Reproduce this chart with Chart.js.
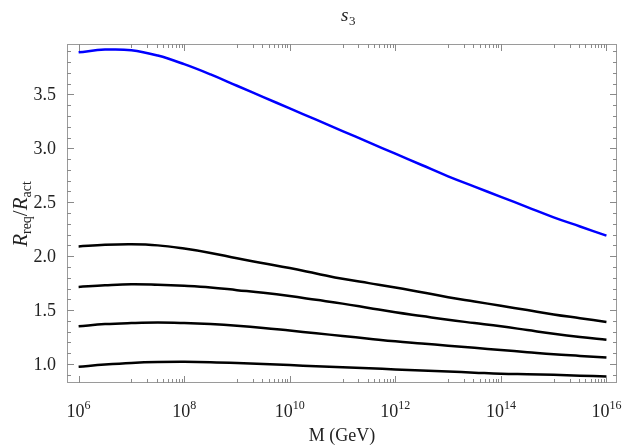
<!DOCTYPE html>
<html lang="en">
<head>
<meta charset="utf-8">
<script src="https://cdn.jsdelivr.net/npm/chart.js@4.4.1/dist/chart.umd.min.js"></script>
<style>
  html, body { margin: 0; padding: 0; background: #fff; }
</style>
</head>
<body>
<canvas id="grafico" width="623" height="446"></canvas>
<script>
// Eixo x: expoente de M (GeV), ou seja M = 10^expoente (meia década)
const expoentes = [6, 6.5, 7, 7.5, 8, 8.5, 9, 9.5, 10, 10.5, 11, 11.5,
                   12, 12.5, 13, 13.5, 14, 14.5, 15, 15.5, 16];

// curva azul (a de cima)
const curvaAzul = [3.89, 3.915, 3.91, 3.86, 3.78, 3.685, 3.58, 3.475, 3.37, 3.265, 3.16, 3.055,
                   2.95, 2.845, 2.74, 2.645, 2.55, 2.455, 2.36, 2.275, 2.19];

// curvas pretas, de cima para baixo
const curvaPreta1 = [2.09, 2.105, 2.11, 2.10, 2.07, 2.03, 1.98, 1.935, 1.89, 1.84, 1.79, 1.75,
                     1.71, 1.665, 1.62, 1.58, 1.54, 1.50, 1.46, 1.425, 1.39];
const curvaPreta2 = [1.715, 1.73, 1.74, 1.735, 1.725, 1.71, 1.685, 1.66, 1.63, 1.595, 1.56, 1.52,
                     1.48, 1.445, 1.41, 1.38, 1.35, 1.315, 1.28, 1.25, 1.225];
const curvaPreta3 = [1.35, 1.37, 1.38, 1.385, 1.38, 1.37, 1.355, 1.335, 1.31, 1.285, 1.26, 1.235,
                     1.21, 1.19, 1.17, 1.15, 1.13, 1.11, 1.09, 1.075, 1.06];
const curvaPreta4 = [0.975, 0.995, 1.01, 1.018, 1.02, 1.017, 1.01, 1.00, 0.99, 0.98, 0.97, 0.96,
                     0.95, 0.94, 0.93, 0.92, 0.91, 0.905, 0.90, 0.892, 0.885];

// marcas dos eixos
const ticksX = [6, 8, 10, 12, 14, 16];
const ticksY = [1.0, 1.5, 2.0, 2.5, 3.0, 3.5];

const FONTE = '"Liberation Serif", "DejaVu Serif", serif';

/**
 * Monta a lista de pontos {x, y} de uma curva.
 */
function pontos(valores) {
    return expoentes.map((e, i) => ({ x: e, y: valores[i] }));
}

function serie(valores, cor) {
    return {
        data: pontos(valores),
        borderColor: cor,
        borderWidth: 2.5,
        pointRadius: 0,
        tension: 0.4,
        fill: false
    };
}

/**
 * Desenha a moldura, as marcas (maiores e menores) e os textos,
 * no estilo do Mathematica.
 */
const moldura = {
    id: 'moldura',
    afterDatasetsDraw(chart) {
        const { ctx, chartArea: { left, right, top, bottom }, scales: { x, y } } = chart;
        ctx.save();

        // moldura
        ctx.strokeStyle = '#9a9a9a';
        ctx.lineWidth = 1;
        ctx.strokeRect(left + 0.5, top + 0.5, right - left - 1, bottom - top - 1);

        const linha = (x1, y1, x2, y2) => {
            ctx.beginPath();
            ctx.moveTo(x1, y1);
            ctx.lineTo(x2, y2);
            ctx.stroke();
        };

        // marcas do eixo x
        ctx.strokeStyle = '#8a8a8a';
        ticksX.forEach(v => {
            const px = Math.round(x.getPixelForValue(v)) + 0.5;
            linha(px, bottom, px, bottom - 7);
            linha(px, top, px, top + 7);
        });
        for (let o = 7; o < 16; o += 2) {
            for (let k = 1; k <= 9; k++) {
                const px = Math.round(x.getPixelForValue(o + Math.log10(k))) + 0.5;
                linha(px, bottom, px, bottom - 4);
                linha(px, top, px, top + 4);
            }
        }

        // marcas do eixo y
        for (let i = 9; i <= 39; i++) {
            const v = i / 10;
            const py = Math.round(y.getPixelForValue(v)) + 0.5;
            const tam = i % 5 === 0 ? 7 : 4;
            linha(left, py, left + tam, py);
            linha(right, py, right - tam, py);
        }

        // rótulos do eixo y
        ctx.fillStyle = '#222';
        ctx.font = '18px ' + FONTE;
        ctx.textAlign = 'right';
        ctx.textBaseline = 'middle';
        ticksY.forEach(v => {
            ctx.fillText(v.toFixed(1), left - 11, y.getPixelForValue(v) + 1);
        });

        // rótulos do eixo x: 10 com expoente
        ctx.textAlign = 'left';
        ctx.textBaseline = 'alphabetic';
        ticksX.forEach(v => {
            const base = '10';
            const exp = String(v);
            ctx.font = '18px ' + FONTE;
            const wb = ctx.measureText(base).width;
            ctx.font = '12px ' + FONTE;
            const we = ctx.measureText(exp).width;
            const x0 = x.getPixelForValue(v) - (wb + we) / 2;
            ctx.font = '18px ' + FONTE;
            ctx.fillText(base, x0, 417);
            ctx.font = '12px ' + FONTE;
            ctx.fillText(exp, x0 + wb, 409);
        });

        // título do eixo x
        ctx.font = '18px ' + FONTE;
        ctx.textAlign = 'center';
        ctx.fillText('M (GeV)', (left + right) / 2, 441);

        // título no topo: s com índice 3
        ctx.textAlign = 'left';
        ctx.font = 'italic 19px ' + FONTE;
        ctx.fillText('s', 341, 21);
        ctx.font = '13px ' + FONTE;
        ctx.fillText('3', 349, 25);

        // título do eixo y: R_req / R_act (rodado)
        ctx.translate(27, 214);
        ctx.rotate(-Math.PI / 2);
        const partes = [
            { t: 'R', f: 'italic 21px ', dy: 0 },
            { t: 'req', f: '14px ', dy: 4 },
            { t: '/', f: '21px ', dy: 0 },
            { t: 'R', f: 'italic 21px ', dy: 0 },
            { t: 'act', f: '14px ', dy: 4 }
        ];
        let total = 0;
        partes.forEach(p => { ctx.font = p.f + FONTE; p.w = ctx.measureText(p.t).width; total += p.w; });
        let cx = -total / 2;
        partes.forEach(p => {
            ctx.font = p.f + FONTE;
            ctx.fillText(p.t, cx, p.dy);
            cx += p.w;
        });

        ctx.restore();
    }
};

new Chart(document.getElementById('grafico'), {
    type: 'line',
    data: {
        datasets: [
            serie(curvaAzul, 'rgb(0,0,255)'),
            serie(curvaPreta1, '#000'),
            serie(curvaPreta2, '#000'),
            serie(curvaPreta3, '#000'),
            serie(curvaPreta4, '#000')
        ]
    },
    options: {
        responsive: false,
        animation: false,
        layout: { padding: { left: 67, right: 6, top: 44, bottom: 63 } },
        scales: {
            x: { type: 'linear', min: 5.78, max: 16.2, display: false },
            y: { type: 'linear', min: 0.824, max: 3.967, display: false }
        },
        plugins: {
            legend: { display: false },
            tooltip: { enabled: false }
        }
    },
    plugins: [moldura]
});
</script>
</body>
</html>
